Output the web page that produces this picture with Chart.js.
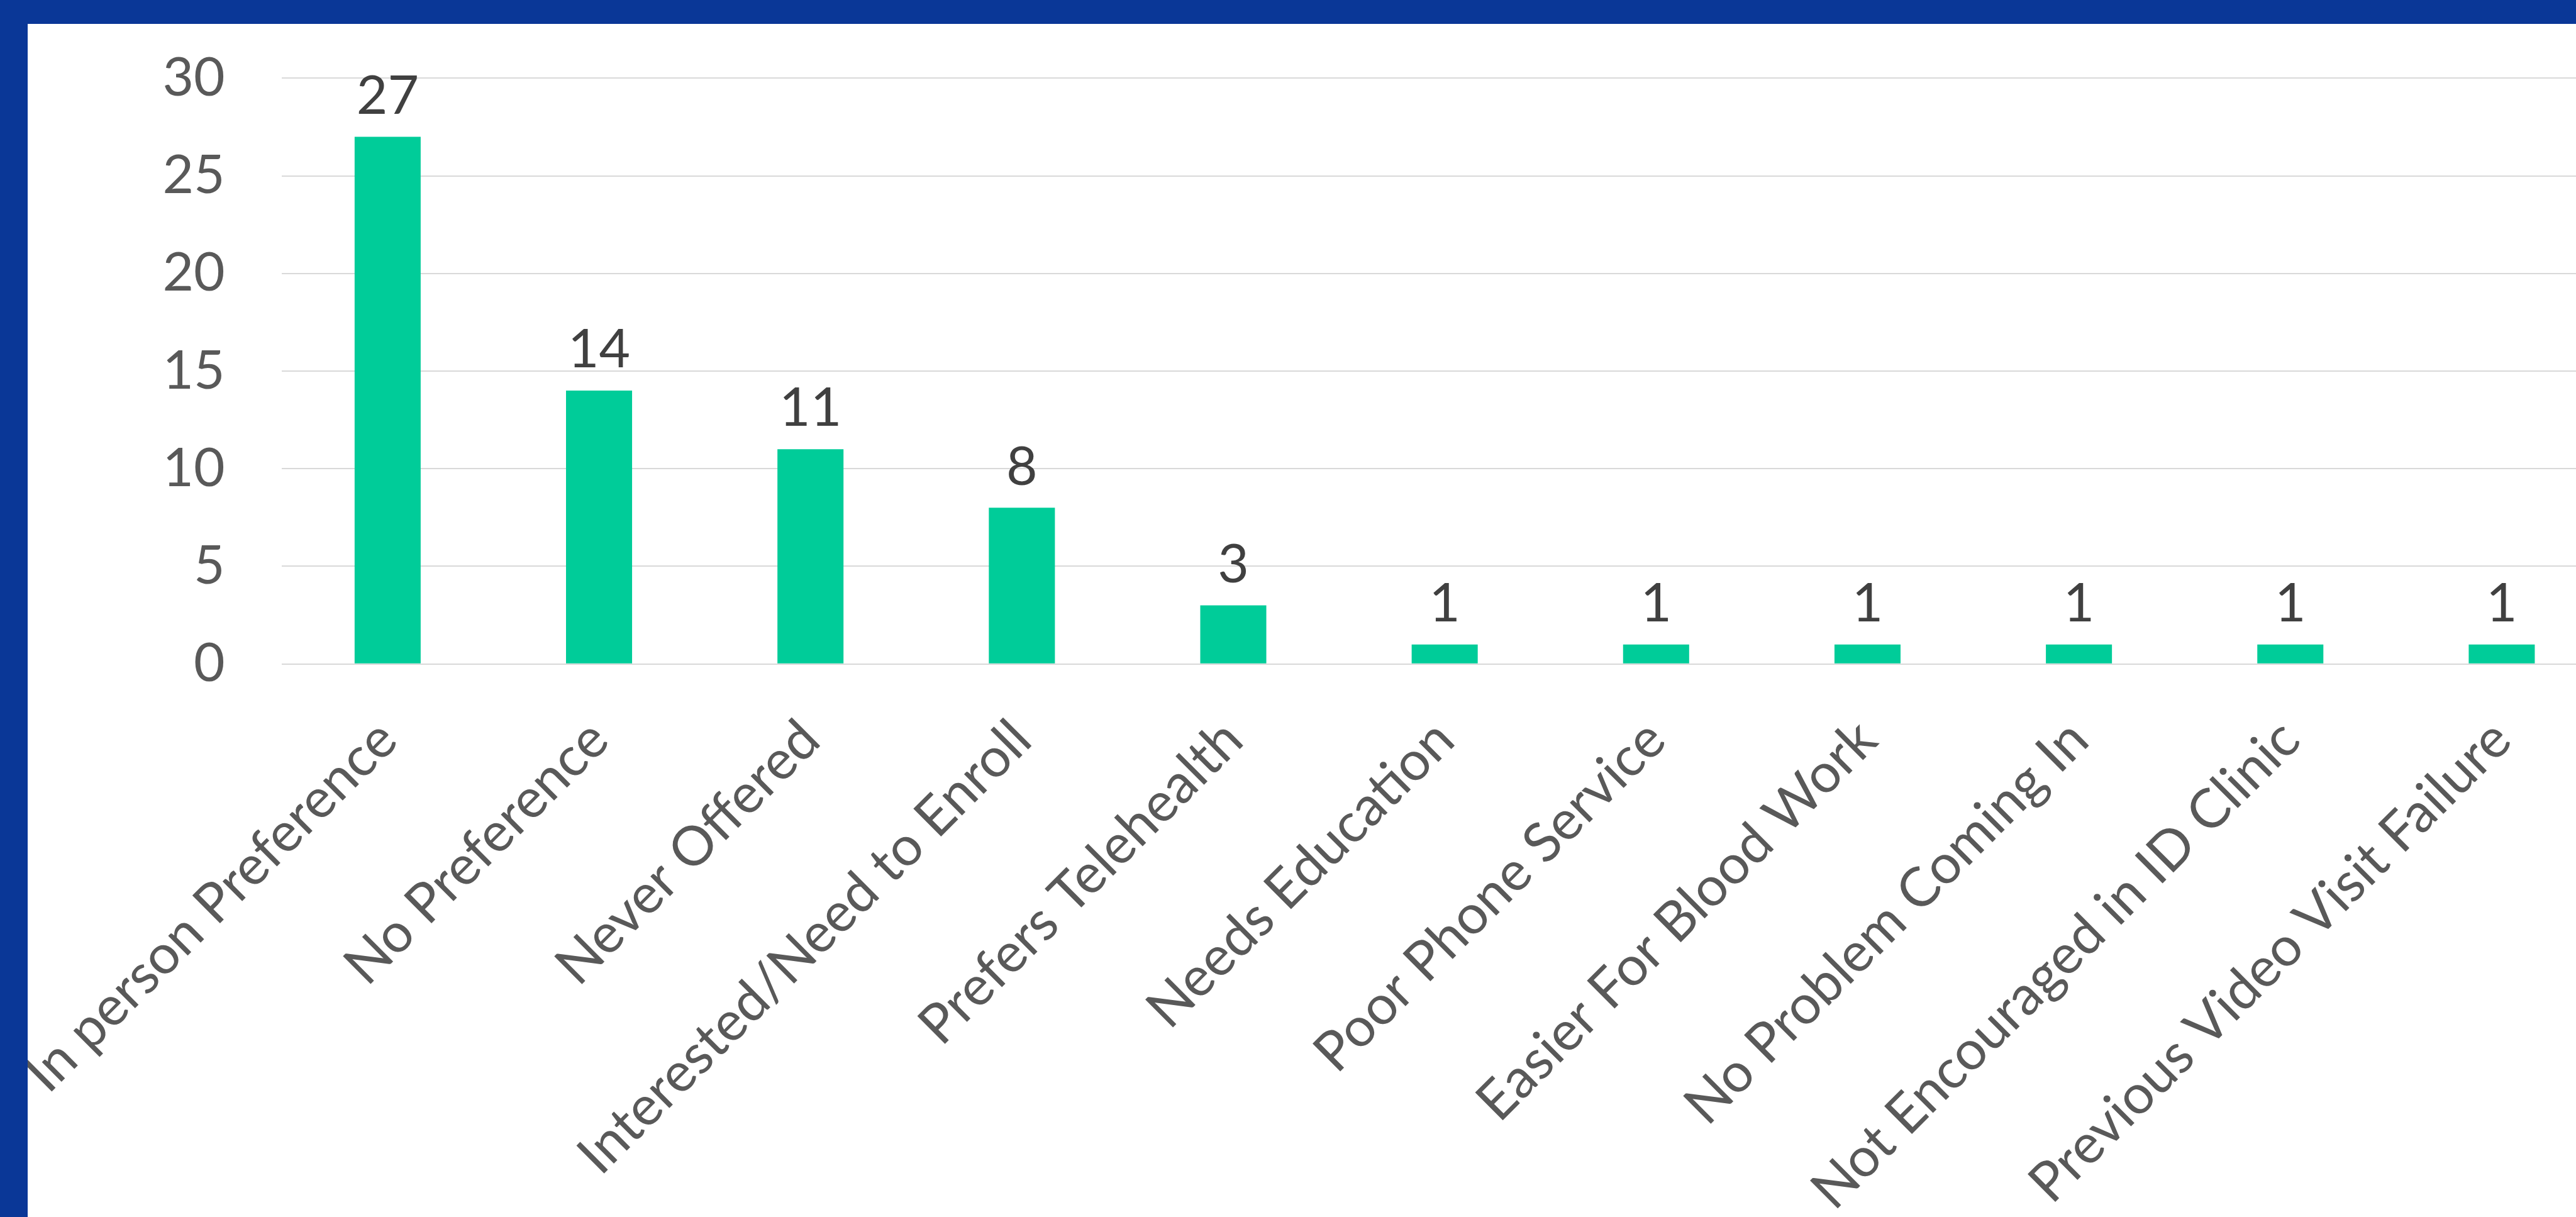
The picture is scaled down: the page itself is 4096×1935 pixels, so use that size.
<!DOCTYPE html>
<html>
<head>
<meta charset="utf-8">
<script src="https://cdn.jsdelivr.net/npm/chart.js@4.4.0/dist/chart.umd.min.js"></script>
<style>
  html, body { margin: 0; padding: 0; background: #fff; overflow: hidden; width: 4096px; height: 1935px; }
  #wrap { position: absolute; left: 0; top: 0; width: 4146px; height: 1935px; }
  .frame-top { position: absolute; left: 0; top: 0; width: 4096px; height: 38px; background: #0a3797; }
  .frame-left { position: absolute; left: 0; top: 0; width: 44px; height: 1935px; background: #0a3797; }
</style>
</head>
<body>
<div id="wrap"><canvas id="myChart"></canvas></div>
<div class="frame-top"></div>
<div class="frame-left"></div>
<script>
const S = 0.995;

const categories = [
  'In person Preference',
  'No Preference',
  'Never Offered',
  'Interested/Need to Enroll',
  'Prefers Telehealth',
  'Needs Education',
  'Poor Phone Service',
  'Easier For Blood Work',
  'No Problem Coming In',
  'Not Encouraged in ID Clinic',
  'Previous Video Visit Failure'
];
const counts = [27, 14, 11, 8, 3, 1, 1, 1, 1, 1, 1];
const yTicks = [0, 5, 10, 15, 20, 25, 30];

// numbers drawn above each bar
const valueLabels = {
  id: 'valueLabels',
  afterDatasetsDraw(chart) {
    const ctx = chart.ctx;
    const meta = chart.getDatasetMeta(0);
    ctx.save();
    ctx.font = (86 * S) + 'px Lato';
    ctx.fillStyle = '#404040';
    ctx.textAlign = 'center';
    ctx.textBaseline = 'alphabetic';
    meta.data.forEach((bar, i) => {
      ctx.fillText(String(counts[i]), bar.x, bar.y - 37 * S);
    });
    ctx.restore();
  }
};

const data = {
  labels: categories,
  datasets: [{
    data: counts,
    backgroundColor: '#00cc99',
    borderWidth: 0,
    barPercentage: 0.3125,
    categoryPercentage: 1.0
  }]
};

const config = {
  type: 'bar',
  data: data,
  options: {
    responsive: true,
    maintainAspectRatio: false,
    animation: false,
    layout: { padding: { left: 0, right: 0, top: 124.4, bottom: 0 } },
    plugins: { legend: { display: false }, tooltip: { enabled: false } },
    scales: {
      x: {
        grid: { display: false, drawTicks: false },
        border: { display: false },
        ticks: {
          autoSkip: false,
          maxRotation: 45,
          minRotation: 45,
          padding: 69,
          color: '#595959',
          font: { family: 'Lato', size: 87 }
        },
        afterFit(axis) {
          axis.height = 1935 - 1055.7;
          axis.paddingLeft = 0;
          axis.paddingRight = 0;
        }
      },
      y: {
        min: 0,
        max: 30,
        afterBuildTicks(axis) { axis.ticks = yTicks.map(v => ({ value: v })); },
        grid: { color: '#d9d9d9', lineWidth: 2, drawTicks: false },
        border: { display: false },
        ticks: {
          padding: 90.6,
          color: '#595959',
          font: { family: 'Lato', size: 86 * S }
        },
        afterFit(axis) {
          axis.width = 448.3;
          axis.paddingTop = 0;
          axis.paddingBottom = 0;
        }
      }
    }
  },
  plugins: [valueLabels]
};

document.fonts.load('87px Lato').then(() => {
  const myChart = new Chart(document.getElementById('myChart'), config);
});
</script>
</body>
</html>
